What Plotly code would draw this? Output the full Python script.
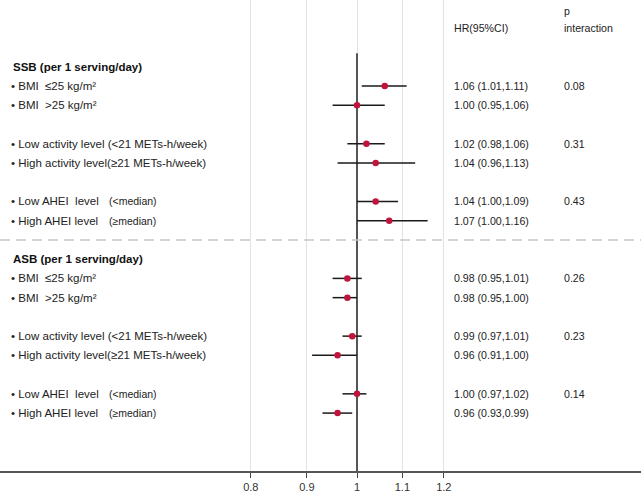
import plotly.graph_objects as go

# ---------------- data ----------------
group_titles = ["SSB (per 1 serving/day)", "ASB (per 1 serving/day)"]
row_labels = [
    "BMI\u00a0 ≤25 kg/m²",
    "BMI\u00a0 &gt;25 kg/m²",
    "Low activity level (&lt;21 METs-h/week)",
    "High activity level(≥21 METs-h/week)",
    "Low AHEI\u00a0 level",
    "High AHEI level",
] * 2
row_suffix = ["", "", "", "", "(&lt;median)", "(≥median)"] * 2
hr = [1.06, 1.00, 1.02, 1.04, 1.04, 1.07, 0.98, 0.98, 0.99, 0.96, 1.00, 0.96]
ci_low = [1.01, 0.95, 0.98, 0.96, 1.00, 1.00, 0.95, 0.95, 0.97, 0.91, 0.97, 0.93]
ci_high = [1.11, 1.06, 1.06, 1.13, 1.09, 1.16, 1.01, 1.00, 1.01, 1.00, 1.02, 0.99]
rows = [0, 1, 3, 4, 6, 7, 10, 11, 13, 14, 16, 17]
header_rows = [-1, 9]
p_values = ["0.08", "0.31", "0.43", "0.26", "0.23", "0.14"]
p_rows = [0, 3, 6, 10, 13, 16]
tick_vals = [0.8, 0.9, 1, 1.1, 1.2]
tick_text = ["0.8", "0.9", "1", "1.1", "1.2"]

W, H = 641, 493
FONT = "Liberation Sans, Arial, Helvetica, sans-serif"

fig = go.Figure()

# reference line at HR = 1
fig.add_trace(go.Scatter(x=[1, 1], y=[-1.7, 20.1], mode="lines",
                         line=dict(color="#555555", width=2),
                         hoverinfo="skip", showlegend=False))

# confidence intervals
cx, cy = [], []
for lo, hi, r in zip(ci_low, ci_high, rows):
    cx += [lo, hi, None]
    cy += [r, r, None]
fig.add_trace(go.Scatter(x=cx, y=cy, mode="lines",
                         line=dict(color="#1a1a1a", width=1.5),
                         hoverinfo="skip", showlegend=False))

# point estimates
fig.add_trace(go.Scatter(x=hr, y=rows, mode="markers",
                         marker=dict(color="#c0143c", size=6.5),
                         showlegend=False))

ann = []
def px(x):
    return x / W

# group headers
for t, r in zip(group_titles, header_rows):
    ann.append(dict(x=px(11), y=r, xref="paper", yref="y", text=f"<b>{t}</b>",
                    showarrow=False, xanchor="left", yanchor="middle",
                    font=dict(size=11.5, color="#111111", family=FONT)))

# row labels and HR text
for lab, suf, r, h, lo, hi in zip(row_labels, row_suffix, rows, hr, ci_low, ci_high):
    ann.append(dict(x=px(9), y=r, xref="paper", yref="y", text="•\u00a0" + lab,
                    showarrow=False, xanchor="left", yanchor="middle",
                    font=dict(size=11.5, color="#222222", family=FONT)))
    if suf:
        ann.append(dict(x=px(107), y=r, xref="paper", yref="y", text=suf,
                        showarrow=False, xanchor="left", yanchor="middle",
                        font=dict(size=10.5, color="#222222", family=FONT)))
    ann.append(dict(x=px(452), y=r, xref="paper", yref="y",
                    text=f"{h:.2f} ({lo:.2f},{hi:.2f})",
                    showarrow=False, xanchor="left", yanchor="middle",
                    font=dict(size=10.6, color="#222222", family=FONT)))

for p, r in zip(p_values, p_rows):
    ann.append(dict(x=px(562), y=r, xref="paper", yref="y", text=p,
                    showarrow=False, xanchor="left", yanchor="middle",
                    font=dict(size=10.6, color="#222222", family=FONT)))

# column headers
ann.append(dict(x=px(452), y=-3.0, xref="paper", yref="y", text="HR(95%CI)",
                showarrow=False, xanchor="left", yanchor="middle",
                font=dict(size=10.6, color="#222222", family=FONT)))
ann.append(dict(x=px(562), y=-3.9, xref="paper", yref="y", text="p",
                showarrow=False, xanchor="left", yanchor="middle",
                font=dict(size=10.6, color="#222222", family=FONT)))
ann.append(dict(x=px(562), y=-3.0, xref="paper", yref="y", text="interaction",
                showarrow=False, xanchor="left", yanchor="middle",
                font=dict(size=10.6, color="#222222", family=FONT)))

shapes = [dict(type="line", xref="paper", yref="y", x0=0, x1=1, y0=8, y1=8,
               line=dict(color="#c8c8c8", width=1.5, dash="10px,6px"))]

fig.update_layout(
    width=W, height=H,
    margin=dict(l=0, r=0, t=0, b=22),
    paper_bgcolor="white", plot_bgcolor="white",
    annotations=ann, shapes=shapes,
    xaxis=dict(type="log", range=[-0.3257, 0.2591],
               tickvals=tick_vals, ticktext=tick_text,
               ticks="outside", ticklen=5, tickcolor="#444444", tickwidth=1.2,
               showline=True, linecolor="#555555", linewidth=1.5,
               showgrid=True, gridcolor="#e2e2e2", gridwidth=1,
               zeroline=False,
               tickfont=dict(size=11, color="#333333", family=FONT)),
    yaxis=dict(range=[20.01, -4.47], visible=False, showgrid=False, zeroline=False),
)

fig.write_html("out.html",
               config={"displayModeBar": False},
               post_script="document.body.style.margin='0';document.body.style.padding='0';")
